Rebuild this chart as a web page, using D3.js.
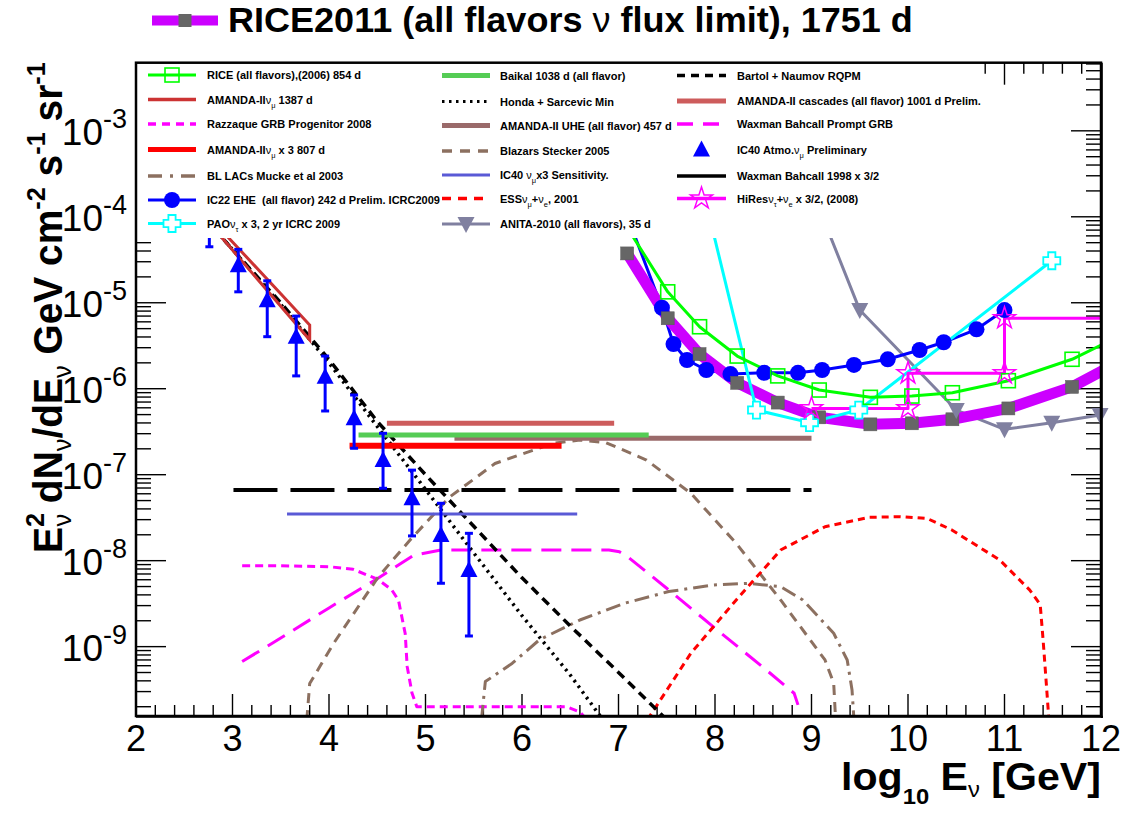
<!DOCTYPE html>
<html><head><meta charset="utf-8">
<script src="https://cdn.jsdelivr.net/npm/d3@7"></script>
<style>
body{margin:0;background:#fff}
svg{display:block}
text{font-family:"Liberation Sans",Arial,Helvetica,sans-serif;white-space:pre}
</style>
</head><body>
<svg id="c" width="1129" height="814"></svg>
<script>
// ---------------- DATA (log10 E [GeV], E^2 dN/dE) ----------------
const rice2011E = [7.09, 7.51, 7.84, 8.23, 8.65, 9.08, 9.61, 10.04, 10.46, 11.04, 11.70, 12.3];
const rice2011F = [3.75e-5, 6.6e-6, 2.53e-6, 1.17e-6, 6.9e-7, 4.65e-7, 3.85e-7, 3.96e-7, 4.41e-7, 5.9e-7, 1.05e-6, 2.4e-6];
const rice2006E = [7.09, 7.51, 7.84, 8.23, 8.65, 9.08, 9.61, 10.04, 10.46, 11.04, 11.70, 12.3];
const rice2006F = [7.5e-5, 1.34e-5, 5.26e-6, 2.40e-6, 1.41e-6, 9.66e-7, 7.94e-7, 8.22e-7, 8.98e-7, 1.24e-6, 2.20e-6, 4.7e-6];
const ic22E = [7.0, 7.45, 7.57, 7.71, 7.91, 8.16, 8.51, 8.86, 9.11, 9.44, 9.79, 10.12, 10.37, 10.71, 11.0];
const ic22F = [1.9e-4, 8.75e-6, 3.31e-6, 2.16e-6, 1.65e-6, 1.48e-6, 1.53e-6, 1.53e-6, 1.65e-6, 1.89e-6, 2.20e-6, 2.82e-6, 3.47e-6, 4.91e-6, 8.22e-6];
const paoE = [7.6, 8.43, 8.98, 9.49, 11.49];
const paoF = [3.8e-3, 5.65e-7, 4.03e-7, 5.65e-7, 3.08e-5];
const anitaE = [9.0, 9.5, 10.5, 11.0, 11.49, 11.99];
const anitaF = [2.1e-4, 8.22e-6, 5.65e-7, 3.37e-7, 4.03e-7, 4.94e-7];
const hiresE = [9.0, 10.0, 10.0, 11.0, 11.0, 12.5];
const hiresF = [5.9e-7, 5.9e-7, 1.51e-6, 1.51e-6, 6.6e-6, 6.6e-6];
const hiresMarkE = [9.0, 10.0, 10.0, 11.0, 11.0];
const hiresMarkF = [5.9e-7, 5.9e-7, 1.51e-6, 1.51e-6, 6.6e-6];
const amandaBandE  = [2.6, 3.0, 3.5, 3.8];
const amandaBandHi = [1.56e-4, 5.1e-5, 1.27e-5, 5.5e-6];
const amandaBandLo = [1.37e-4, 4.1e-5, 9.1e-6, 3.7e-6];
const hondaE = [2.5, 3.0, 3.5, 4.0, 4.5, 5.0, 5.5, 6.0, 6.5, 7.0];
const hondaF = [1.82e-4, 4.17e-5, 9.55e-6, 2.0e-6, 3.63e-7, 6.76e-8, 1.23e-8, 2.29e-9, 4.68e-10, 7.94e-11];
const bartolE = [2.5, 3.0, 3.5, 4.0, 4.5, 5.0, 5.5, 6.0, 6.5, 7.0, 7.5];
const bartolF = [1.82e-4, 4.17e-5, 1.0e-5, 2.19e-6, 4.17e-7, 1.0e-7, 2.51e-8, 6.31e-9, 1.74e-9, 5.01e-10, 1.41e-10];
const ic40E  = [2.76, 3.06, 3.36, 3.66, 3.96, 4.26, 4.56, 4.86, 5.16, 5.45];
const ic40F  = [6.92e-5, 2.74e-5, 1.07e-5, 4.03e-6, 1.38e-6, 4.53e-7, 1.48e-7, 5.32e-8, 1.99e-8, 7.80e-9];
const ic40Hi = [1.05e-4, 4.18e-5, 1.80e-5, 7.00e-6, 2.40e-6, 8.45e-7, 3.03e-7, 1.13e-7, 4.65e-8, 2.08e-8];
const ic40Lo = [4.48e-5, 1.34e-5, 4.03e-6, 1.41e-6, 5.51e-7, 2.03e-7, 6.95e-8, 1.94e-8, 5.46e-9, 1.33e-9];
const cascadesE = [4.60, 6.955];   const cascadesF = [3.96e-7, 3.96e-7];
const baikalE = [4.306, 7.313];    const baikalF = [2.9e-7, 2.9e-7];
const uheE = [5.30, 9.0];          const uheF = [2.65e-7, 2.65e-7];
const amandaX3E = [4.213, 6.41];   const amandaX3F = [2.17e-7, 2.17e-7];
const wb1998E = [3.01, 9.0];       const wb1998F = [6.64e-8, 6.64e-8];
const ic40SensE = [3.565, 6.572];  const ic40SensF = [3.49e-8, 3.49e-8];
const razzaqueE = [3.10, 3.5, 4.0, 4.25, 4.51, 4.65, 4.72, 4.79, 4.81, 4.86, 4.91, 5.5, 6.0, 6.46, 6.6, 6.75];
const razzaqueF = [8.75e-9, 8.71e-9, 8.51e-9, 7.94e-9, 6.03e-9, 4.57e-9, 3.47e-9, 1.41e-9, 5.89e-10, 2.88e-10, 2.0e-10, 2.0e-10, 2.0e-10, 2.0e-10, 1.74e-10, 1.12e-10];
const wbPromptE = [3.10, 3.5, 4.0, 4.5, 4.88, 5.16, 5.5, 6.0, 6.5, 6.9, 7.01, 7.1, 7.52, 7.98, 8.49, 8.82, 8.86];
const wbPromptF = [6.70e-10, 1.26e-9, 2.82e-9, 6.17e-9, 1.16e-8, 1.33e-8, 1.33e-8, 1.33e-8, 1.33e-8, 1.33e-8, 1.27e-8, 1.10e-8, 4.57e-9, 1.71e-9, 5.85e-10, 2.87e-10, 2.10e-10];
const blazarE = [3.77, 3.80, 4.05, 4.51, 4.84, 5.25, 5.72, 6.32, 6.60, 6.87, 7.29, 7.75, 8.22, 8.68, 9.14, 9.23, 9.25];
const blazarF = [1.4e-10, 3.72e-10, 1.10e-9, 6.46e-9, 1.74e-8, 5.50e-8, 1.35e-7, 2.32e-7, 2.53e-7, 2.36e-7, 1.48e-7, 6.07e-8, 1.59e-8, 3.49e-9, 7.00e-10, 3.75e-10, 1.4e-10];
const bllacE = [5.58, 5.62, 5.90, 6.18, 6.60, 7.06, 7.52, 7.98, 8.35, 8.68, 8.91, 9.23, 9.37, 9.42, 9.44];
const bllacF = [1.41e-10, 3.92e-10, 6.41e-10, 1.20e-9, 2.04e-9, 3.19e-9, 4.37e-9, 5.21e-9, 5.45e-9, 4.99e-9, 3.49e-9, 1.43e-9, 7.00e-10, 3.13e-10, 1.41e-10];
const essE = [7.30, 7.75, 8.22, 8.68, 9.14, 9.60, 9.92, 10.2, 10.45, 10.95, 11.26, 11.37, 11.40, 11.43, 11.46];
const essF = [1.41e-10, 8.38e-10, 3.49e-9, 1.33e-8, 2.48e-8, 3.19e-8, 3.25e-8, 3.09e-8, 2.29e-8, 1.02e-8, 4.57e-9, 3.09e-9, 1.20e-9, 4.17e-10, 1.41e-10];
const xTickLabels = ['2','3','4','5','6','7','8','9','10','11','12'];
const yTickExponents = [-9, -8, -7, -6, -5, -4, -3];

// ---------------- SETUP ----------------
const svg = d3.select('#c');
const P = {l:136, r:1101, t:62.7, b:716};
const x = d3.scaleLinear().domain([2, 12]).range([P.l, P.r]);
const y = d3.scaleLog().domain([1.56e-10, 6.2e-3]).range([P.b, P.t]);
svg.append('rect').attr('width',1129).attr('height',814).attr('fill','#fff');
svg.append('defs').append('clipPath').attr('id','clip').append('rect')
  .attr('x',P.l).attr('y',P.t).attr('width',P.r-P.l).attr('height',P.b-P.t);

// ---------------- TICKS ----------------
const tk = svg.append('g').attr('stroke','#000').attr('stroke-width',1.4);
d3.range(0, 51).forEach(i => {
  const v = 2 + i*0.2, L = (i % 5 === 0) ? 22 : 11, px = x(v);
  tk.append('line').attr('x1',px).attr('x2',px).attr('y1',P.b).attr('y2',P.b-L);
  tk.append('line').attr('x1',px).attr('x2',px).attr('y1',P.t).attr('y2',P.t+L);
});
const [y0, y1] = y.domain();
for (let e = -11; e <= -2; e++) for (let m = 1; m <= 9; m++) {
  const v = m * Math.pow(10, e);
  if (v < y0 || v > y1) continue;
  const L = m === 1 ? 30 : 15, py = y(v);
  tk.append('line').attr('x1',P.l).attr('x2',P.l+L).attr('y1',py).attr('y2',py);
  tk.append('line').attr('x1',P.r).attr('x2',P.r-L).attr('y1',py).attr('y2',py);
}

// ---------------- DATA DRAWING ----------------
const plot = svg.append('g').attr('clip-path','url(#clip)');
const line = d3.line().x(d => x(d[0])).y(d => y(d[1]));
function drawLine(E, F, color, w, dash, parent) {
  (parent || plot).append('path').datum(d3.zip(E, F)).attr('d', line)
    .attr('fill','none').attr('stroke',color).attr('stroke-width',w)
    .attr('stroke-dasharray', dash || null).attr('stroke-linejoin','round');
}
function marker(g, kind, cx, cy, color) {
  if (kind === 'sqOpen') g.append('rect').attr('x',cx-7).attr('y',cy-7).attr('width',14).attr('height',14)
      .attr('fill','none').attr('stroke',color).attr('stroke-width',1.6);
  else if (kind === 'sqGray') g.append('rect').attr('x',cx-6.5).attr('y',cy-6.5).attr('width',13).attr('height',13)
      .attr('fill','#666').attr('stroke','#5a5a5a').attr('stroke-width',0.5);
  else if (kind === 'circle') g.append('circle').attr('cx',cx).attr('cy',cy).attr('r',8).attr('fill',color);
  else if (kind === 'crossOpen') {
    const a = 3.6, L = 8.5;
    g.append('path').attr('transform',`translate(${cx},${cy})`)
      .attr('d',`M${-a},${-L}H${a}V${-a}H${L}V${a}H${a}V${L}H${-a}V${a}H${-L}V${-a}H${-a}Z`)
      .attr('fill','#fff').attr('stroke',color).attr('stroke-width',1.8);
  }
  else if (kind === 'triDown') g.append('path').attr('transform',`translate(${cx},${cy})`)
      .attr('d','M-8.5,-7L8.5,-7L0,9Z').attr('fill',color);
  else if (kind === 'triUp') g.append('path').attr('transform',`translate(${cx},${cy})`)
      .attr('d','M0,-9L8.5,7L-8.5,7Z').attr('fill',color);
  else if (kind === 'starOpen') g.append('path').attr('transform',`translate(${cx},${cy})`)
      .attr('d', d3.symbol(d3.symbolStar, 150)()).attr('fill','none').attr('stroke',color).attr('stroke-width',1.5);
}
function drawMarkers(E, F, kind, color) {
  const g = svg.append('g');
  E.forEach((e, i) => { if (e >= 2 && e <= 12.05 && F[i] >= y0 && F[i] <= y1) marker(g, kind, x(e), y(F[i]), color); });
}

const brown = '#8c7060';
// model curves
drawLine(razzaqueE, razzaqueF, '#ff00ff', 3, '8,5');
drawLine(wbPromptE, wbPromptF, '#ff00ff', 3, '20,10');
drawLine(blazarE, blazarF, brown, 3, '10,7');
drawLine(bllacE, bllacF, brown, 3, '15,6,3,6');
drawLine(essE, essF, '#ff0000', 3, '7,5');
drawLine(hondaE, hondaF, '#000', 3.5, '2.5,4.5');
drawLine(bartolE, bartolF, '#000', 3.5, '9,6');
// AMANDA-II numu band
plot.append('path')
  .datum(d3.zip(amandaBandE, amandaBandHi).concat(d3.zip(amandaBandE, amandaBandLo).reverse()))
  .attr('d', d => line(d) + 'Z').attr('fill','none').attr('stroke','#cc3333').attr('stroke-width',3);
// flat limits
drawLine(ic40SensE, ic40SensF, '#5a5ad6', 3);
drawLine(wb1998E, wb1998F, '#000', 4, '44,13');
drawLine(cascadesE, cascadesF, '#cd5c5c', 5);
drawLine(uheE, uheF, '#9a6a6a', 5);
drawLine(baikalE, baikalF, '#55cc55', 5);
drawLine(amandaX3E, amandaX3F, '#ff0000', 6);
// IC40 atmospheric points
const eb = svg.append('g').attr('stroke','#0000ff').attr('stroke-width',3);
ic40E.forEach((e, i) => {
  const px = x(e), ph = Math.max(y(ic40Hi[i]), P.t), pl = y(ic40Lo[i]);
  eb.append('line').attr('x1',px).attr('x2',px).attr('y1',ph).attr('y2',pl);
  eb.append('line').attr('x1',px-4).attr('x2',px+4).attr('y1',ph).attr('y2',ph);
  eb.append('line').attr('x1',px-4).attr('x2',px+4).attr('y1',pl).attr('y2',pl);
});
drawMarkers(ic40E, ic40F, 'triUp', '#0000ff');
// experiments at high energy
drawLine(anitaE, anitaF, '#8080a0', 3);
drawLine(ic22E, ic22F, '#0000ff', 3);
drawMarkers(ic22E, ic22F, 'circle', '#0000ff');
drawLine(rice2011E, rice2011F, '#cc00ff', 11);
drawMarkers(rice2011E, rice2011F, 'sqGray', '#666');
drawLine(paoE, paoF, '#00ffff', 3);
drawMarkers(paoE, paoF, 'crossOpen', '#00ffff');
drawLine(rice2006E, rice2006F, '#00ff00', 3);
drawMarkers(rice2006E, rice2006F, 'sqOpen', '#00ff00');
drawMarkers(anitaE, anitaF, 'triDown', '#8080a0');
drawLine(hiresE, hiresF, '#ff00ff', 3);
drawMarkers(hiresMarkE, hiresMarkF, 'starOpen', '#ff00ff');

// ---------------- LEGEND BOX ----------------
const lg = svg.append('g');
lg.append('rect').attr('x',P.l).attr('y',P.t).attr('width',973-P.l).attr('height',238-P.t).attr('fill','#fff');
const cols = [[148,196,207],[442,490,500],[677,726,737]];
const legendEntries = [
  {c:0, y:75,  seg:[['RICE (all flavors),(2006) 854 d']], col:'#00ff00', w:3, mk:'sqOpen'},
  {c:0, y:99.5,seg:[['AMANDA-II'],['ν','g'],['μ','s'],[' 1387 d']], col:'#cc3333', w:3.5},
  {c:0, y:124, seg:[['Razzaque GRB Progenitor 2008']], col:'#ff00ff', w:3.5, dash:'8,6'},
  {c:0, y:149.5,seg:[['AMANDA-II'],['ν','g'],['μ','s'],[' x 3 807 d']], col:'#ff0000', w:5},
  {c:0, y:176, seg:[['BL LACs Mucke et al 2003']], col:brown, w:3.5, dash:'14,8,3,8'},
  {c:0, y:200, seg:[['IC22 EHE  (all flavor) 242 d Prelim. ICRC2009']], col:'#0000ff', w:3, mk:'circle'},
  {c:0, y:223.5,seg:[['PAO'],['ν','g'],['τ','s'],[' x 3, 2 yr ICRC 2009']], col:'#00ffff', w:3, mk:'crossOpen'},
  {c:1, y:75.5,seg:[['Baikal 1038 d (all flavor)']], col:'#55cc55', w:5},
  {c:1, y:101.5,seg:[['Honda + Sarcevic Min']], col:'#000', w:3, dash:'2.5,4.5'},
  {c:1, y:125.5,seg:[['AMANDA-II UHE (all flavor) 457 d']], col:'#9a6a6a', w:5},
  {c:1, y:151, seg:[['Blazars Stecker 2005']], col:brown, w:3.5, dash:'10,8'},
  {c:1, y:175, seg:[['IC40 '],['ν','g'],['μ','s'],['x3 Sensitivity.']], col:'#5a5ad6', w:3},
  {c:1, y:198.5,seg:[['ESS'],['ν','g'],['μ','s'],['+'],['ν','g'],['e','s'],[', 2001']], col:'#ff0000', w:3.5, dash:'9,7'},
  {c:1, y:224, seg:[['ANITA-2010 (all flavors), 35 d']], col:'#8080a0', w:3, mk:'triDown'},
  {c:2, y:75.5,seg:[['Bartol + Naumov RQPM']], col:'#000', w:3.5, dash:'8,6'},
  {c:2, y:101, seg:[['AMANDA-II cascades (all flavor) 1001 d Prelim.']], col:'#cd5c5c', w:5},
  {c:2, y:124, seg:[['Waxman Bahcall Prompt GRB']], col:'#ff00ff', w:3.5, dash:'16,10'},
  {c:2, y:149.5,seg:[['IC40 Atmo.'],['ν','g'],['μ','s'],[' Preliminary']], col:null, mk:'triUp', mkcol:'#0000ff'},
  {c:2, y:176, seg:[['Waxman Bahcall 1998 x 3/2']], col:'#000', w:3.5},
  {c:2, y:198.5,seg:[['HiRes'],['ν','g'],['τ','s'],['+'],['ν','g'],['e','s'],[' x 3/2, (2008)']], col:'#ff00ff', w:3.5, mk:'starOpen'}
];
legendEntries.forEach(en => {
  const [a, b, tx] = cols[en.c];
  if (en.col) lg.append('line').attr('x1',a).attr('x2',b).attr('y1',en.y).attr('y2',en.y)
      .attr('stroke',en.col).attr('stroke-width',en.w).attr('stroke-dasharray',en.dash||null);
  if (en.mk) marker(lg, en.mk, (a+b)/2, en.y, en.mkcol || en.col);
  const t = lg.append('text').attr('x',tx).attr('y',en.y+4).attr('font-size',11).attr('font-weight','bold');
  let sub = false;
  en.seg.forEach(([s, k]) => {
    const ts = t.append('tspan').text(s);
    if (k === 'g') { ts.attr('font-weight','normal').attr('font-size',11); if (sub) { ts.attr('dy',-4); sub = false; } }
    else if (k === 's') { ts.attr('font-weight','normal').attr('font-size',7.5).attr('dy',4); sub = true; }
    else if (sub) { ts.attr('dy',-4); sub = false; }
  });
});

// ---------------- FRAME ----------------
svg.append('rect').attr('x',P.l).attr('y',P.t).attr('width',P.r-P.l).attr('height',P.b-P.t)
  .attr('fill','none').attr('stroke','#000').attr('stroke-width',2.5);
svg.append('line').attr('x1',P.r+0.8).attr('x2',P.r+0.8).attr('y1',P.t).attr('y2',P.b+2).attr('stroke','#000').attr('stroke-width',2);
svg.append('line').attr('x1',P.l).attr('x2',P.r+2).attr('y1',P.b+0.8).attr('y2',P.b+0.8).attr('stroke','#000').attr('stroke-width',2);

// ---------------- TICK LABELS ----------------
xTickLabels.forEach((s, i) => {
  svg.append('text').attr('x', x(2+i)).attr('y', 751).attr('text-anchor','middle').attr('font-size',36).text(s);
});
yTickExponents.forEach(e => {
  const t = svg.append('text').attr('x',127).attr('y', y(Math.pow(10,e)) + 14).attr('text-anchor','end').attr('font-size',37);
  t.append('tspan').text('10');
  t.append('tspan').attr('font-size',27).attr('dy',-17).text(String(e));
});

// ---------------- TITLES ----------------
function rich(parent, segs, F) {
  const t = parent.append('text').attr('font-size',F).attr('font-weight','bold');
  segs.forEach(s => {
    const ts = t.append('tspan').text(s.t);
    if (s.fs) ts.attr('font-size', s.fs);
    if (s.fw) ts.attr('font-weight', s.fw);
    if (s.dx) ts.attr('dx', s.dx);
    if (s.dy) ts.attr('dy', s.dy);
  });
  return t;
}
function fitted(tx, ty, rot, segs, F, target) {
  const g = svg.append('g');
  const t = rich(g, segs, F);
  const w = t.node().getBBox().width;
  const s = target / w;
  g.attr('transform', `translate(${tx},${ty})` + (rot ? ` rotate(${rot})` : '') + ` scale(${s},1)`);
  return g;
}
// top legend / title
svg.append('line').attr('x1',152).attr('x2',218).attr('y1',20.5).attr('y2',20.5).attr('stroke','#cc00ff').attr('stroke-width',10);
svg.append('rect').attr('x',178.5).attr('y',14).attr('width',13).attr('height',13).attr('fill','#666');
fitted(228, 32, 0, [{t:'RICE2011 (all flavors '},{t:'ν', fw:'normal'},{t:' flux limit), 1751 d'}], 35, 685);
// x axis title
fitted(841, 790, 0, [{t:'log'},{t:'10', fs:22, dy:14},{t:' E', dy:-14},{t:'ν', fs:22, fw:'normal', dy:7},{t:' [GeV]', dy:-7}], 38, 260);
// y axis title
fitted(62, 553, -90, [
  {t:'E'},{t:'2', fs:26, dy:-18},{t:'ν', fs:26, fw:'normal', dx:-14, dy:27},
  {t:' dN', dy:-9},{t:'ν', fs:26, fw:'normal', dy:9},{t:'/dE', dy:-9},{t:'ν', fs:26, fw:'normal', dy:9},
  {t:' GeV cm', dy:-9},{t:'-2', fs:26, dy:-17},{t:' s', dy:17},{t:'-1', fs:26, dy:-17},
  {t:' sr', dy:17},{t:'-1', fs:26, dy:-17}], 40, 491);
</script>
</body></html>
